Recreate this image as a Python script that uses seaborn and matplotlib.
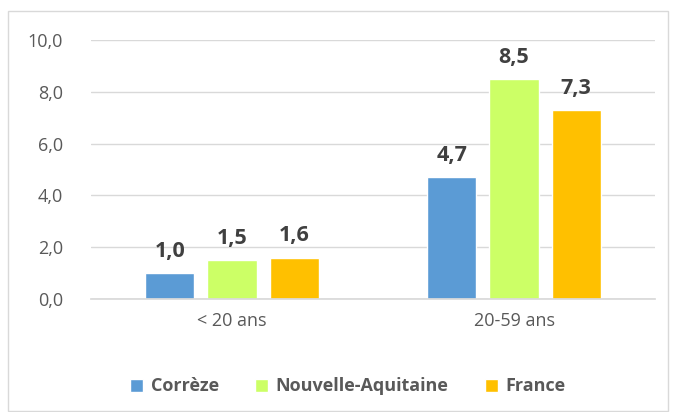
import matplotlib
matplotlib.use("Agg")
import matplotlib.pyplot as plt
import seaborn as sns
import pandas as pd
from matplotlib.patches import Rectangle

categories = ["< 20 ans", "20-59 ans"]
series_names = ["Corrèze", "Nouvelle-Aquitaine", "France"]
correze = [1.0, 4.7]
nouvelle_aquitaine = [1.5, 8.5]
france = [1.6, 7.3]
y_ticks = [0, 2, 4, 6, 8, 10]
colors = ["#5B9BD5", "#CCFF66", "#FFC000"]

rows = []
for name, vals in zip(series_names, [correze, nouvelle_aquitaine, france]):
    for c, v in zip(categories, vals):
        rows.append({"cat": c, "serie": name, "val": v})
df = pd.DataFrame(rows)

sns.set_theme(style="white")
plt.rcParams["font.family"] = ["Open Sans", "DejaVu Sans"]

fig = plt.figure(figsize=(6.74, 4.12), dpi=100)
ax = fig.add_axes([91 / 674, 1 - 299 / 412, (655 - 91) / 674, (299 - 40) / 412])

sns.barplot(data=df, x="cat", y="val", hue="serie", order=categories,
            hue_order=series_names, palette=colors, width=0.66, gap=0.21,
            saturation=1, ax=ax, legend=True)

ax.set_xlim(-0.5, 1.5)
ax.set_ylim(0, 10)
ax.set_yticks(y_ticks)
ax.set_yticklabels([f"{t:.1f}".replace(".", ",") for t in y_ticks])
ax.grid(axis="y", color="#D9D9D9", linewidth=1)
ax.set_axisbelow(True)
for s in ["top", "right", "left"]:
    ax.spines[s].set_visible(False)
ax.spines["bottom"].set_color("#D9D9D9")
ax.tick_params(axis="both", length=0, labelsize=13, colors="#595959", pad=9)
ax.tick_params(axis="y", pad=20)
ax.set_xlabel("")
ax.set_ylabel("")

for cont in ax.containers:
    ax.bar_label(cont, labels=[f"{v:.1f}".replace(".", ",") for v in cont.datavalues],
                 padding=8, fontsize=15.5, fontweight="bold", color="#404040")

leg = ax.legend(loc="upper center", bbox_to_anchor=(0.455, -0.24), ncol=3,
                frameon=False, fontsize=13, handlelength=0.75, handleheight=0.75,
                columnspacing=2.0, handletextpad=0.4)
for t in leg.get_texts():
    t.set_fontweight("bold")
    t.set_color("#595959")

fig.patches.append(Rectangle((8 / 674, 1 / 412), (668 - 8) / 674, (401 - 1) / 412,
                             transform=fig.transFigure, fill=False,
                             edgecolor="#D9D9D9", linewidth=1))

fig.savefig("out.png", dpi=100)
